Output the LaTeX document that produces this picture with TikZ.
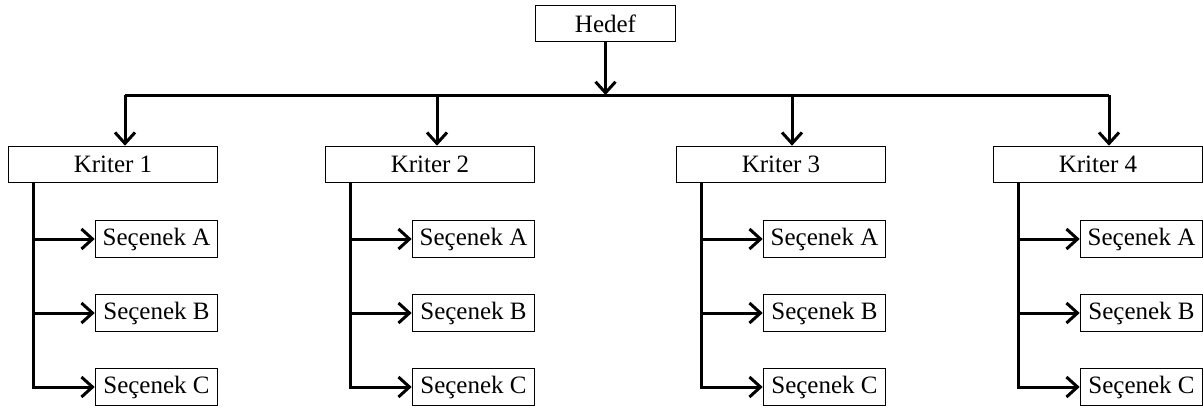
\documentclass[tikz,border=0pt]{standalone}
\usepackage{fontspec}
\setmainfont{Liberation Serif}
\usetikzlibrary{arrows.meta, positioning}
\tikzstyle{goal} = [rectangle, minimum width=140pt, minimum height=36pt, inner sep=0pt, draw=black, line width=1.6pt, font=\fontsize{25}{30}\selectfont]
\tikzstyle{crit} = [rectangle, minimum width=209pt, minimum height=36pt, inner sep=0pt, draw=black, line width=1.6pt, font=\fontsize{25}{30}\selectfont]
\tikzstyle{alt} = [rectangle, minimum width=122pt, minimum height=37pt, inner sep=0pt, draw=black, line width=1.6pt, font=\fontsize{25}{30}\selectfont]
\tikzstyle{bus} = [line width=3pt]
\tikzstyle{link} = [line width=3pt,-{Straight Barb[length=11pt,width=20pt]}]

\begin{document}
\begin{tikzpicture}[x=1pt,y=1pt,node distance=317pt]
      \useasboundingbox (0,0) rectangle (1203,-408);
      \node (h) [goal] at (605.5,-23.5) {Hedef};
      \node (hub) [coordinate, below of=h, node distance=71.5pt] {};

      \node (k1) [crit, below of=h, node distance=141pt, xshift=-492.5pt] {Kriter 1};
      \node (k2) [crit, right of=k1] {Kriter 2};
      \node (k3) [crit, right of=k2, xshift=34pt] {Kriter 3};
      \node (k4) [crit, right of=k3] {Kriter 4};

      \node (a1) [alt, below of=k1, node distance=74.5pt, xshift=43.5pt] {Seçenek A};
      \node (b1) [alt, below of=a1, node distance=74pt] {Seçenek B};
      \node (c1) [alt, below of=b1, node distance=74pt] {Seçenek C};
      \node (a2) [alt, below of=k2, node distance=74.5pt, xshift=43.5pt] {Seçenek A};
      \node (b2) [alt, below of=a2, node distance=74pt] {Seçenek B};
      \node (c2) [alt, below of=b2, node distance=74pt] {Seçenek C};
      \node (a3) [alt, below of=k3, node distance=74.5pt, xshift=43.5pt] {Seçenek A};
      \node (b3) [alt, below of=a3, node distance=74pt] {Seçenek B};
      \node (c3) [alt, below of=b3, node distance=74pt] {Seçenek C};
      \node (a4) [alt, below of=k4, node distance=74.5pt, xshift=43.5pt] {Seçenek A};
      \node (b4) [alt, below of=a4, node distance=74pt] {Seçenek B};
      \node (c4) [alt, below of=b4, node distance=74pt] {Seçenek C};

      \draw [link] (h) -- (h |- hub);
      \draw [bus] ([xshift=12pt]k1.north |- hub) -- ([xshift=11pt]k4.north |- hub);
      \draw [link] ([xshift=12pt]k1.north |- hub) -- ([xshift=12pt]k1.north);
      \draw [link] ([xshift=7pt]k2.north |- hub) -- ([xshift=7pt]k2.north);
      \draw [link] ([xshift=11pt]k3.north |- hub) -- ([xshift=11pt]k3.north);
      \draw [link] ([xshift=11pt]k4.north |- hub) -- ([xshift=11pt]k4.north);

      \draw [link] ([xshift=26pt]k1.south west) |- (c1);
      \draw [link] ([xshift=26pt]k1.south west |- a1) -- (a1);
      \draw [link] ([xshift=26pt]k1.south west |- b1) -- (b1);
      \draw [link] ([xshift=26pt]k2.south west) |- (c2);
      \draw [link] ([xshift=26pt]k2.south west |- a2) -- (a2);
      \draw [link] ([xshift=26pt]k2.south west |- b2) -- (b2);
      \draw [link] ([xshift=26pt]k3.south west) |- (c3);
      \draw [link] ([xshift=26pt]k3.south west |- a3) -- (a3);
      \draw [link] ([xshift=26pt]k3.south west |- b3) -- (b3);
      \draw [link] ([xshift=26pt]k4.south west) |- (c4);
      \draw [link] ([xshift=26pt]k4.south west |- a4) -- (a4);
      \draw [link] ([xshift=26pt]k4.south west |- b4) -- (b4);
    \end{tikzpicture}
\end{document}
